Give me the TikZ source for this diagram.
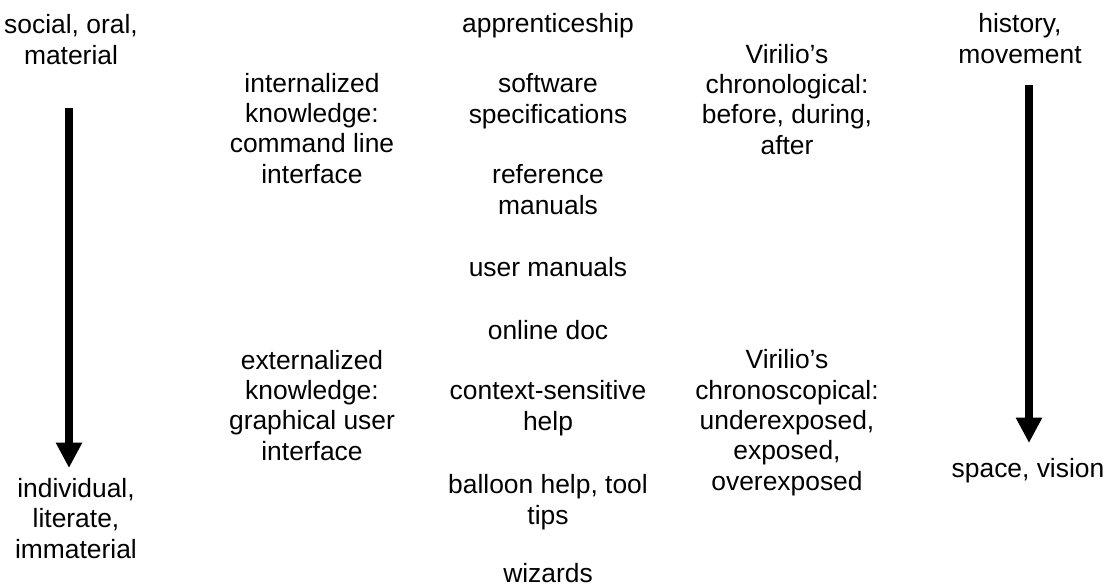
\documentclass[tikz,border=0pt]{standalone}
\usepackage{fontspec}
\setmainfont{Liberation Sans}
\usetikzlibrary{arrows.meta}

\begin{document}
\begin{tikzpicture}[x=0.75pt,y=0.75pt,yscale=-1,
  lbl/.style={anchor=base,align=center,inner sep=0pt,font=\fontsize{19.8pt}{22.7pt}\selectfont},
  bigarrow/.style={line width=5.4pt,-{Triangle[width=18.5pt,length=19pt]}}]
\useasboundingbox (0,0) rectangle (1104,587);

%Left column (anchor = baseline of last line)
\node [lbl] (socialTop) at (71,64) {social, oral,\\material};
\node [lbl] (socialBot) at (76,558) {individual,\\literate,\\immaterial};
\coordinate (leftStart) at (69,108);
\coordinate (leftEnd) at (69,468);
\draw [bigarrow] (leftStart) -- (leftEnd);

%Knowledge column
\node [lbl] (intKnow) at (312,183) {internalized\\knowledge:\\command line\\interface};
\node [lbl] (extKnow) at (312,460) {externalized\\knowledge:\\graphical user\\interface};

%Documentation column
\node [lbl] (apprent) at (548,32) {apprenticeship};
\node [lbl] (softSpec) at (548,123) {software\\specifications};
\node [lbl] (refMan) at (548,214) {reference\\manuals};
\node [lbl] (userMan) at (548,276) {user manuals};
\node [lbl] (onlineDoc) at (548,339) {online doc};
\node [lbl] (ctxHelp) at (548,430) {context-sensitive\\help};
\node [lbl] (balloon) at (548,524) {balloon help, tool\\tips};
\node [lbl] (wizards) at (548,582) {wizards};

%Virilio column
\node [lbl] (chronoLog) at (787,154) {Virilio’s\\chronological:\\before, during,\\after};
\node [lbl] (chronoScop) at (787,490) {Virilio’s\\chronoscopical:\\underexposed,\\exposed,\\overexposed};

%Right column
\node [lbl] (histTop) at (1020,63) {history,\\movement};
\node [lbl] (spaceBot) at (1028,477) {space, vision};
\coordinate (rightStart) at (1029,85);
\coordinate (rightEnd) at (1029,443);
\draw [bigarrow] (rightStart) -- (rightEnd);

\end{tikzpicture}
\end{document}
